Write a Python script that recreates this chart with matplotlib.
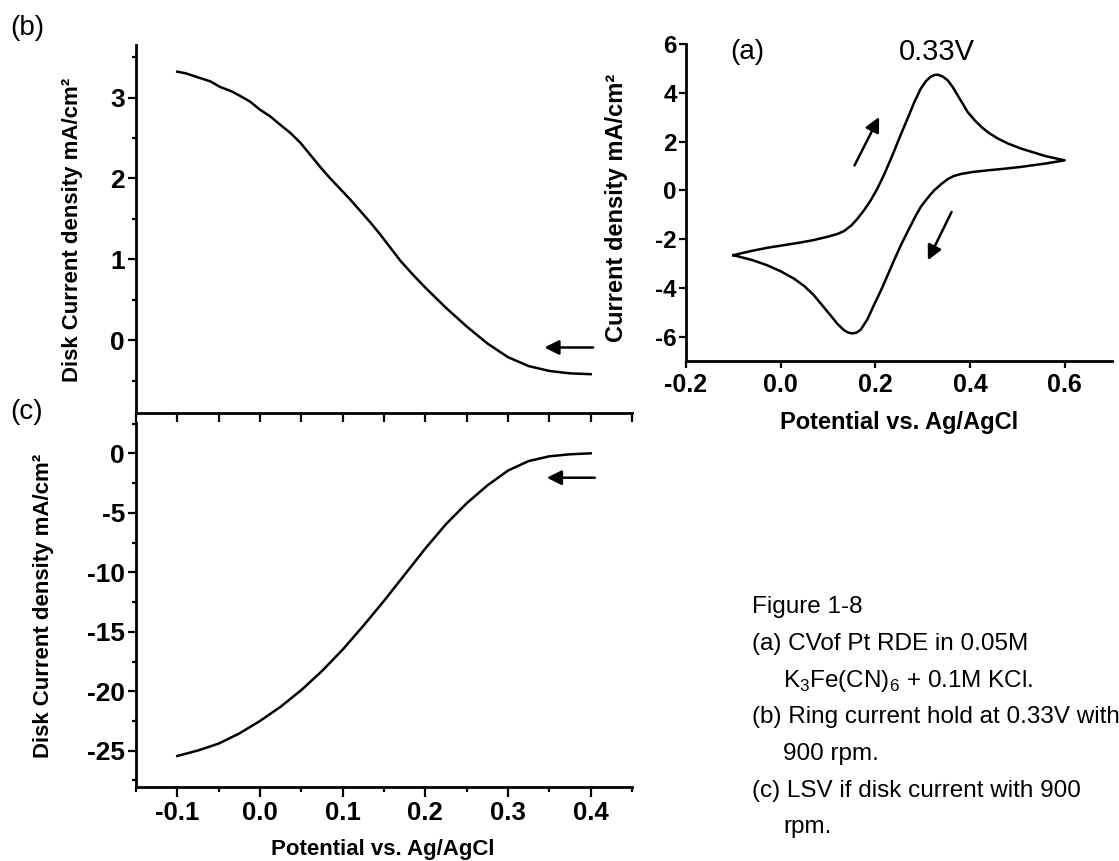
import numpy as np
import matplotlib
matplotlib.use("Agg")
import matplotlib.pyplot as plt
from matplotlib.ticker import MultipleLocator, FormatStrFormatter

plt.rcParams['font.family'] = ['Liberation Sans', 'DejaVu Sans']
plt.rcParams['mathtext.fontset'] = 'custom'
plt.rcParams['mathtext.rm'] = 'Liberation Sans'
plt.rcParams['axes.unicode_minus'] = False

# (a) CV of Pt RDE: forward scan (-0.1 -> 0.6 V) then reverse scan back to -0.1 V
cv_potential = [-0.100, -0.060, -0.029, 0.010, 0.042, 0.070, 0.098, 0.120, 0.134, 0.150,
                0.162, 0.176, 0.190, 0.204, 0.218, 0.236, 0.252, 0.268, 0.282, 0.296,
                0.307, 0.317, 0.325, 0.332, 0.342, 0.353, 0.364, 0.374, 0.385, 0.395,
                0.410, 0.424, 0.440, 0.459, 0.480, 0.508, 0.530, 0.560, 0.600,
                0.560, 0.530, 0.508, 0.470, 0.438, 0.405, 0.381, 0.365, 0.353, 0.339,
                0.325, 0.317, 0.303, 0.296, 0.286, 0.268, 0.254, 0.240, 0.226, 0.212,
                0.197, 0.183, 0.169, 0.160, 0.151, 0.142, 0.134, 0.120, 0.105, 0.088,
                0.070, 0.050, 0.028, 0.000, -0.029, -0.060, -0.100]
cv_current = [-2.66, -2.48, -2.36, -2.24, -2.14, -2.04, -1.91, -1.79, -1.67, -1.43,
              -1.17, -0.82, -0.42, 0.06, 0.62, 1.43, 2.20, 2.94, 3.60, 4.17,
              4.48, 4.66, 4.73, 4.74, 4.67, 4.51, 4.22, 3.89, 3.54, 3.21,
              2.87, 2.60, 2.35, 2.12, 1.92, 1.71, 1.58, 1.40, 1.23,
              1.10, 1.02, 0.96, 0.88, 0.82, 0.75, 0.67, 0.58, 0.46, 0.25,
              0.01, -0.16, -0.50, -0.68, -1.02, -1.70, -2.25, -2.85, -3.48, -4.10,
              -4.71, -5.30, -5.72, -5.84, -5.87, -5.83, -5.74, -5.48, -5.12, -4.72,
              -4.30, -3.93, -3.62, -3.32, -3.07, -2.86, -2.66]

# (b) ring current held at 0.33V
ring_potential = [-0.100, -0.090, -0.075, -0.060, -0.048, -0.035, -0.024, -0.012, 0.000, 0.012,
                  0.025, 0.037, 0.049, 0.061, 0.073, 0.085, 0.098, 0.110, 0.122, 0.134,
                  0.146, 0.158, 0.170, 0.185, 0.200, 0.225, 0.250, 0.275, 0.300, 0.325,
                  0.350, 0.375, 0.400]
ring_current = [3.32, 3.30, 3.25, 3.20, 3.13, 3.08, 3.02, 2.95, 2.85, 2.77,
                2.66, 2.56, 2.44, 2.29, 2.14, 2.00, 1.86, 1.73, 1.59, 1.45,
                1.30, 1.14, 0.98, 0.81, 0.65, 0.40, 0.17, -0.04, -0.21, -0.32,
                -0.38, -0.41, -0.42]

# (c) LSV of disk current, 900 rpm
disk_potential = [-0.100, -0.075, -0.050, -0.025, 0.000, 0.025, 0.050, 0.075, 0.100, 0.125,
                  0.150, 0.175, 0.200, 0.225, 0.250, 0.275, 0.300, 0.325, 0.350, 0.375,
                  0.400]
disk_current = [-25.44, -24.98, -24.4, -23.55, -22.5, -21.3, -19.9, -18.3, -16.5, -14.5,
                -12.4, -10.2, -8.0, -5.95, -4.2, -2.7, -1.45, -0.65, -0.25, -0.08,
                0.0]

W, H = 1119, 861
fig = plt.figure(figsize=(W / 100, H / 100), dpi=100)


def box(left, top, right, bottom):
    # axes rectangle from pixel edges
    return [left / W, 1 - bottom / H, (right - left) / W, (bottom - top) / H]


def style(ax):
    for s in ['top', 'right']:
        ax.spines[s].set_visible(False)
    for s in ['left', 'bottom']:
        ax.spines[s].set_linewidth(2.0)
    ax.tick_params(which='both', direction='out', width=1.6, colors='black')
    for lab in ax.get_xticklabels() + ax.get_yticklabels():
        lab.set_fontweight('bold')


arrow = dict(arrowstyle='-|>', lw=1.8, color='black', mutation_scale=22, shrinkA=0, shrinkB=0)

# panel (b)
axb = fig.add_axes(box(136, 45, 632, 413))
axb.plot(ring_potential, ring_current, color='black', lw=1.8)
axb.set_xlim(-0.15, 0.45)
axb.set_ylim(-0.9, 3.65)
axb.xaxis.set_major_locator(MultipleLocator(0.1))
axb.xaxis.set_minor_locator(MultipleLocator(0.05))
axb.yaxis.set_major_locator(MultipleLocator(1))
axb.yaxis.set_minor_locator(MultipleLocator(0.5))
axb.tick_params(axis='x', which='both', length=6.5, labelbottom=False)
axb.tick_params(axis='y', which='major', length=6, labelsize=19, pad=2)
axb.tick_params(axis='y', which='minor', length=3)
style(axb)
axb.annotate('', xy=(0.344, -0.09), xytext=(0.403, -0.09), arrowprops=arrow)

# panel (c)
axc = fig.add_axes(box(136, 423, 632, 787))
axc.plot(disk_potential, disk_current, color='black', lw=1.8)
axc.set_xlim(-0.15, 0.45)
axc.set_ylim(-28.05, 2.55)
axc.set_xticks([-0.1, 0.0, 0.1, 0.2, 0.3, 0.4])
axc.xaxis.set_minor_locator(MultipleLocator(0.05))
axc.xaxis.set_major_formatter(FormatStrFormatter('%.1f'))
axc.yaxis.set_major_locator(MultipleLocator(5))
axc.yaxis.set_minor_locator(MultipleLocator(2.5))
axc.tick_params(axis='x', which='major', length=7, labelsize=18.5, pad=3)
axc.tick_params(axis='x', which='minor', length=3.5)
axc.tick_params(axis='y', which='major', length=6, labelsize=19, pad=2)
axc.tick_params(axis='y', which='minor', length=3)
style(axc)
axc.annotate('', xy=(0.347, -2.05), xytext=(0.405, -2.05), arrowprops=arrow)

# panel (a)
axa = fig.add_axes(box(686, 44, 1112, 361))
axa.plot(cv_potential, cv_current, color='black', lw=1.8)
axa.set_xlim(-0.2, 0.7)
axa.set_ylim(-7, 6)
axa.set_xticks([-0.2, 0.0, 0.2, 0.4, 0.6])
axa.set_yticks([-6, -4, -2, 0, 2, 4, 6])
axa.xaxis.set_major_formatter(FormatStrFormatter('%.1f'))
axa.tick_params(axis='x', length=5, labelsize=18, pad=4)
axa.tick_params(axis='y', length=5, labelsize=17.5, pad=1.5)
style(axa)
axa.annotate('', xy=(0.208, 3.01), xytext=(0.156, 1.02), arrowprops=arrow)
axa.annotate('', xy=(0.311, -2.87), xytext=(0.361, -0.89), arrowprops=arrow)
fig.text(747 / W, 1 - 52 / H, '(a)', fontsize=20, ha='center', va='center')
fig.text(937 / W, 1 - 52 / H, '0.33V', fontsize=21, ha='center', va='center')

# axis labels
fig.text(73 / W, 1 - 230 / H, 'Disk Current density mA/cm²', rotation=90,
         fontsize=16, fontweight='bold', ha='center', va='center')
fig.text(44 / W, 1 - 606 / H, 'Disk Current density mA/cm²', rotation=90,
         fontsize=16, fontweight='bold', ha='center', va='center')
fig.text(617 / W, 1 - 208 / H, 'Current density mA/cm²', rotation=90,
         fontsize=17, fontweight='bold', ha='center', va='center')
fig.text(899 / W, 1 - 423 / H, 'Potential vs. Ag/AgCl',
         fontsize=17, fontweight='bold', ha='center', va='center')
fig.text(383 / W, 1 - 849 / H, 'Potential vs. Ag/AgCl',
         fontsize=16, fontweight='bold', ha='center', va='center')

# panel tags
fig.text(10 / W, 1 - 28 / H, '(b)', fontsize=20, ha='left', va='center')
fig.text(10 / W, 1 - 412 / H, '(c)', fontsize=20, ha='left', va='center')

# caption
caption = [
    (752, 613, 'Figure 1-8'),
    (752, 650, '(a) CVof Pt RDE in 0.05M'),
    (783, 687, r'K$_3$Fe(CN)$_6$ + 0.1M KCl.'),
    (752, 723, '(b) Ring current hold at 0.33V with'),
    (783, 760, '900 rpm.'),
    (752, 797, '(c) LSV if disk current with 900'),
    (783, 833, 'rpm.'),
]
for x, y, s in caption:
    fig.text(x / W, 1 - y / H, s, fontsize=17.5, ha='left', va='baseline')

fig.savefig('out.png', dpi=100)
